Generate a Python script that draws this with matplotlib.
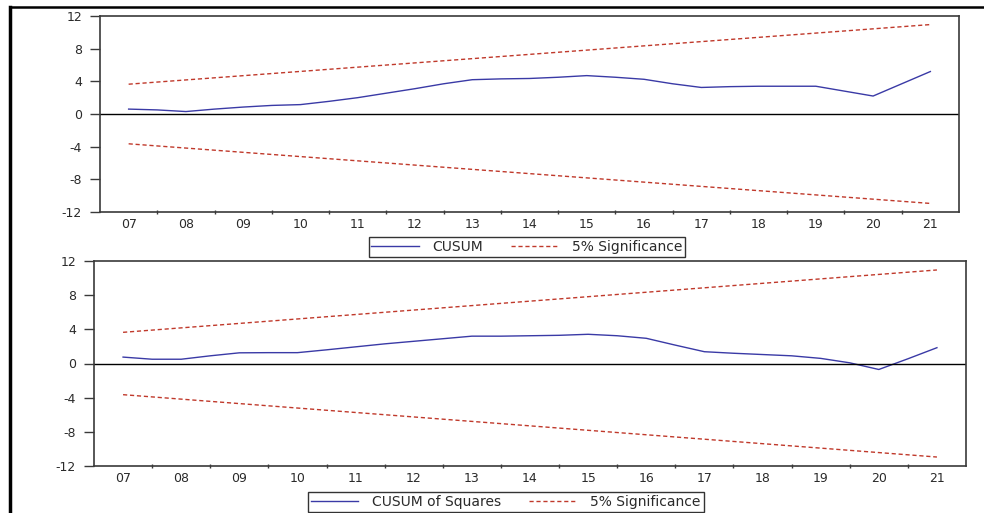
import matplotlib
matplotlib.use("Agg")
import matplotlib.pyplot as plt
from matplotlib.lines import Line2D
import numpy as np

# data
years = ["07", "08", "09", "10", "11", "12", "13", "14",
         "15", "16", "17", "18", "19", "20", "21"]
# positions are half-year steps from 07 to 21
cusum = [0.6, 0.5, 0.3, 0.6, 0.85, 1.05, 1.15, 1.55, 2.0, 2.55,
         3.1, 3.7, 4.2, 4.3, 4.35, 4.5, 4.7, 4.5, 4.25, 3.7,
         3.25, 3.35, 3.4, 3.4, 3.4, 2.8, 2.2, 3.7, 5.2]
cusum_sq = [0.75, 0.5, 0.5, 0.9, 1.25, 1.27, 1.27, 1.6, 1.95, 2.3,
            2.6, 2.9, 3.2, 3.2, 3.25, 3.3, 3.42, 3.25, 2.95, 2.15,
            1.38, 1.2, 1.05, 0.9, 0.6, 0.08, -0.7, 0.55, 1.85]
upper_bound = [3.65, 10.95]
lower_bound = [-3.65, -10.95]
yticks = [12, 8, 4, 0, -4, -8, -12]
legend_top = ["CUSUM", "5% Significance"]
legend_bottom = ["CUSUM of Squares", "5% Significance"]

plt.rcParams["font.family"] = ["DejaVu Sans"]
plt.rcParams["font.size"] = 9
plt.rcParams["text.color"] = "#2a2a2a"
plt.rcParams["xtick.color"] = "#2a2a2a"
plt.rcParams["ytick.color"] = "#2a2a2a"

blue = "#3a3aa6"
red = "#c0392b"
frame = "#3a3a3a"
dash = (0, (3, 2))


def draw_panel(ax, series):
    n = len(years)
    xs = np.arange(len(series)) * 0.5
    ax.plot(xs, series, color=blue, linewidth=1.0)
    ax.plot([0, n - 1], upper_bound, color=red, linewidth=1.0, linestyle=dash)
    ax.plot([0, n - 1], lower_bound, color=red, linewidth=1.0, linestyle=dash)
    ax.axhline(0, color="black", linewidth=1.0)
    ax.set_xlim(-0.5, n - 0.5)
    ax.set_ylim(-12, 12)
    ax.set_yticks(yticks)
    ax.set_yticklabels([str(v) for v in yticks])
    ax.set_xticks(np.arange(n))
    ax.set_xticklabels(years)
    ax.set_xticks(np.arange(n - 1) + 0.5, minor=True)
    ax.tick_params(axis="x", which="major", length=0, pad=4.5)
    ax.tick_params(axis="x", which="minor", length=3, width=1.0,
                   color=frame, direction="inout")
    ax.tick_params(axis="y", length=7, width=1.0, color=frame,
                   direction="out", pad=6)
    for s in ax.spines.values():
        s.set_color(frame)
        s.set_linewidth(1.2)


def make_legend(fig, labels, anchor, loc):
    handles = [Line2D([], [], color=blue, linewidth=1.0),
               Line2D([], [], color=red, linewidth=1.0, linestyle=dash)]
    leg = fig.legend(handles, labels, loc=loc, bbox_to_anchor=anchor,
                     ncol=2, frameon=True, fancybox=False, fontsize=10,
                     handlelength=3.4, handletextpad=1.0, columnspacing=2.0,
                     borderpad=0.2, borderaxespad=0.0)
    leg.get_frame().set_edgecolor("black")
    leg.get_frame().set_linewidth(1.0)
    return leg


def main() -> None:
    W, H = 984, 513
    fig = plt.figure(figsize=(W / 100, H / 100), dpi=100)
    fig.set_facecolor("white")

    ax1 = fig.add_axes([100 / W, 1 - 212 / H, 859 / W, 196 / H])
    draw_panel(ax1, cusum)
    ax2 = fig.add_axes([94 / W, 1 - 466 / H, 872 / W, 205 / H])
    draw_panel(ax2, cusum_sq)

    make_legend(fig, legend_top, (527 / W, 1 - 247 / H), "center")
    make_legend(fig, legend_bottom, (506 / W, 1 - 492 / H), "upper center")

    # outer frame (left and top edges)
    fig.add_artist(Line2D([10 / W, 10 / W], [0, 1 - 7 / H],
                          transform=fig.transFigure, color="black", linewidth=2.5))
    fig.add_artist(Line2D([10 / W, 1], [1 - 7 / H, 1 - 7 / H],
                          transform=fig.transFigure, color="black", linewidth=1.8))

    fig.savefig("out.png", dpi=100)
    plt.close(fig)


if __name__ == "__main__":
    main()
